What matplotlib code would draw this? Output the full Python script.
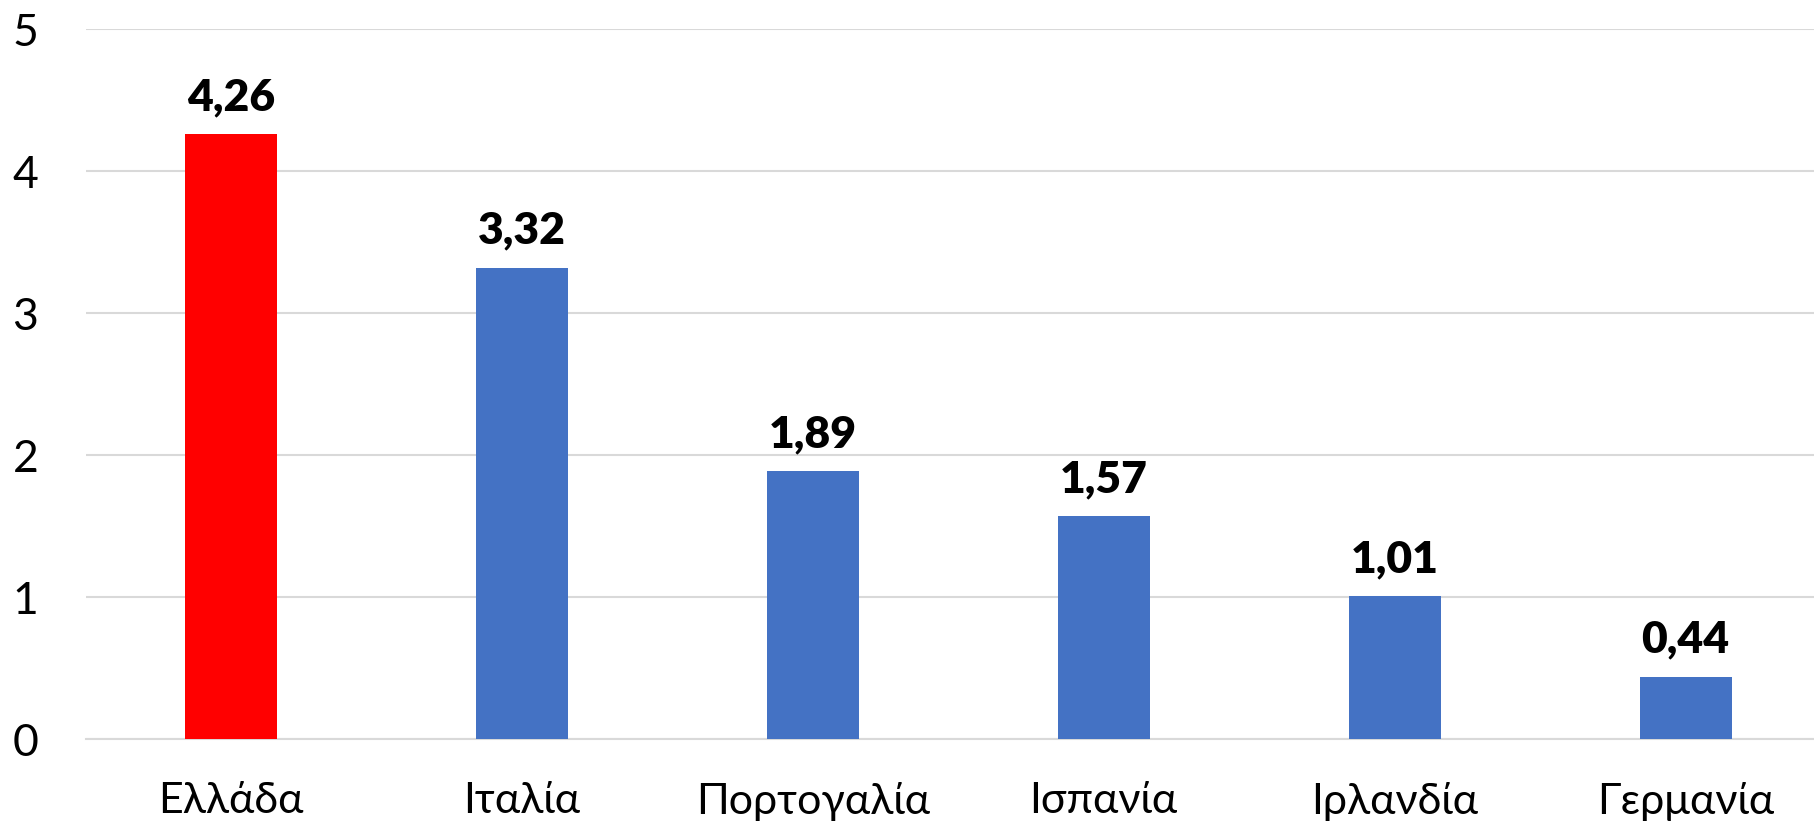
import matplotlib.pyplot as plt

countries = ["Ελλάδα", "Ιταλία", "Πορτογαλία", "Ισπανία", "Ιρλανδία", "Γερμανία"]
values = [4.26, 3.32, 1.89, 1.57, 1.01, 0.44]
bar_colors = ["#FF0000", "#4472C4", "#4472C4", "#4472C4", "#4472C4", "#4472C4"]
yticks = [0, 1, 2, 3, 4, 5]

plt.rcParams["font.family"] = ["Lato", "DejaVu Sans"]

W, H = 1814, 824
fig = plt.figure(figsize=(W / 100, H / 100), dpi=100)
# axes extends a little past the right edge, like the cropped original
left, right, bottom, top = 85.5, 1831, H - 739, H - 29
ax = fig.add_axes([left / W, bottom / H, (right - left) / W, (top - bottom) / H])

x = range(len(countries))
bars = ax.bar(x, values, width=0.316, color=bar_colors, zorder=3)

for b, v in zip(bars, values):
    ax.annotate(f"{v:.2f}".replace(".", ","),
                (b.get_x() + b.get_width() / 2, v),
                xytext=(0, 12), textcoords="offset points",
                ha="center", va="bottom", fontsize=32, fontweight="heavy")

ax.set_xlim(-0.5, len(countries) - 0.5)
ax.set_ylim(0, 5)
ax.set_yticks(yticks)
ax.set_yticklabels([str(t) for t in yticks], fontsize=32)
ax.set_xticks(list(x))
ax.set_xticklabels(countries, fontsize=31)
ax.tick_params(axis="y", length=0, pad=34)
ax.tick_params(axis="x", length=0, pad=31)

ax.grid(axis="y", color="#d9d9d9", linewidth=1.5, zorder=0)
for s in ["top", "right", "left"]:
    ax.spines[s].set_visible(False)
ax.spines["bottom"].set_color("#d9d9d9")
ax.spines["bottom"].set_linewidth(1.5)

fig.savefig("out.png", dpi=100)
